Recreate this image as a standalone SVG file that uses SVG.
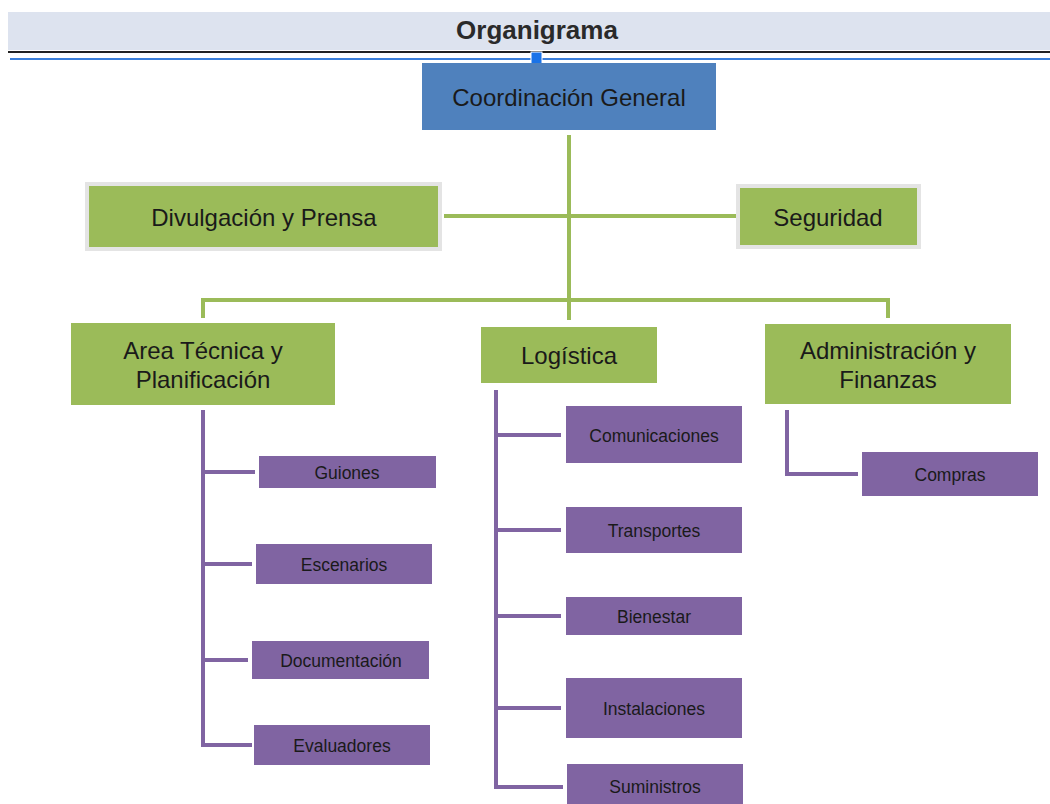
<svg xmlns="http://www.w3.org/2000/svg" width="1050" height="804" viewBox="0 0 1050 804">
<style>
.g{fill:#9bbb59}
.p{fill:#8064a2}
.gl{stroke:#9bbb59;stroke-width:4;fill:none}
.pl{stroke:#8064a2;stroke-width:4;fill:none}
.t{font-family:"Liberation Sans",Arial,sans-serif;fill:#1a1a1a;text-anchor:middle;dominant-baseline:central}
.tg{font-size:24px}
.tp{font-size:17.5px}
.frame{fill:none;stroke:#e4e4e4;stroke-width:4}
</style>
<rect width="1050" height="804" fill="#ffffff"/>
<g id="header">
<rect x="8" y="12" width="1042" height="38" fill="#dde3ef"/>
<line x1="8" y1="52" x2="1050" y2="52" stroke="#222" stroke-width="2"/>
<line x1="10" y1="59" x2="1050" y2="59" stroke="#3c7fd9" stroke-width="2"/>
<rect x="531" y="52" width="11" height="13" fill="#1a73e8" stroke="#fff" stroke-width="1"/>
<text x="537" y="30" class="t" style="font-size:26px;font-weight:bold;fill:#2a2a2a">Organigrama</text>
</g>
<g id="connectors">
<path class="gl" d="M569 135V320M444 216H737M203 318V300H888V318"/>
<path class="pl" d="M203 410V745H252M203 472H255M203 564H252M203 660H248"/>
<path class="pl" d="M496 390V787H563M496 435H561M496 530H561M496 616H561M496 708H561"/>
<path class="pl" d="M787 410V474H858"/>
</g>
<g id="n-coord"><rect x="422" y="63" width="294" height="67" fill="#4f81bd"/><text x="569" y="97" class="t tg">Coordinación General</text></g>
<g id="n-divulg"><rect x="87" y="184" width="353" height="65" class="frame"/><rect x="89" y="186" width="349" height="61" class="g"/><text x="264" y="217" class="t tg">Divulgación y Prensa</text></g>
<g id="n-seg"><rect x="738" y="186" width="181" height="61" class="frame"/><rect x="740" y="188" width="177" height="57" class="g"/><text x="828" y="217" class="t tg">Seguridad</text></g>
<g id="n-area"><rect x="71" y="323" width="264" height="82" class="g"/><text x="203" y="350" class="t tg">Area Técnica y</text><text x="203" y="379" class="t tg">Planificación</text></g>
<g id="n-log"><rect x="481" y="327" width="176" height="56" class="g"/><text x="569" y="355" class="t tg">Logística</text></g>
<g id="n-admin"><rect x="765" y="324" width="246" height="80" class="g"/><text x="888" y="350" class="t tg">Administración y</text><text x="888" y="379" class="t tg">Finanzas</text></g>
<g id="n-guiones"><rect x="259" y="456" width="177" height="32" class="p"/><text x="347" y="473" class="t tp">Guiones</text></g>
<g id="n-escen"><rect x="256" y="544" width="176" height="40" class="p"/><text x="344" y="565" class="t tp">Escenarios</text></g>
<g id="n-doc"><rect x="252" y="641" width="177" height="38" class="p"/><text x="341" y="661" class="t tp">Documentación</text></g>
<g id="n-eval"><rect x="254" y="725" width="176" height="40" class="p"/><text x="342" y="746" class="t tp">Evaluadores</text></g>
<g id="n-com"><rect x="566" y="406" width="176" height="57" class="p"/><text x="654" y="436" class="t tp">Comunicaciones</text></g>
<g id="n-trans"><rect x="566" y="507" width="176" height="46" class="p"/><text x="654" y="531" class="t tp">Transportes</text></g>
<g id="n-bien"><rect x="566" y="597" width="176" height="38" class="p"/><text x="654" y="617" class="t tp">Bienestar</text></g>
<g id="n-inst"><rect x="566" y="678" width="176" height="60" class="p"/><text x="654" y="709" class="t tp">Instalaciones</text></g>
<g id="n-sum"><rect x="567" y="764" width="176" height="40" class="p"/><text x="655" y="787" class="t tp">Suministros</text></g>
<g id="n-compras"><rect x="862" y="452" width="176" height="44" class="p"/><text x="950" y="475" class="t tp">Compras</text></g>
</svg>
